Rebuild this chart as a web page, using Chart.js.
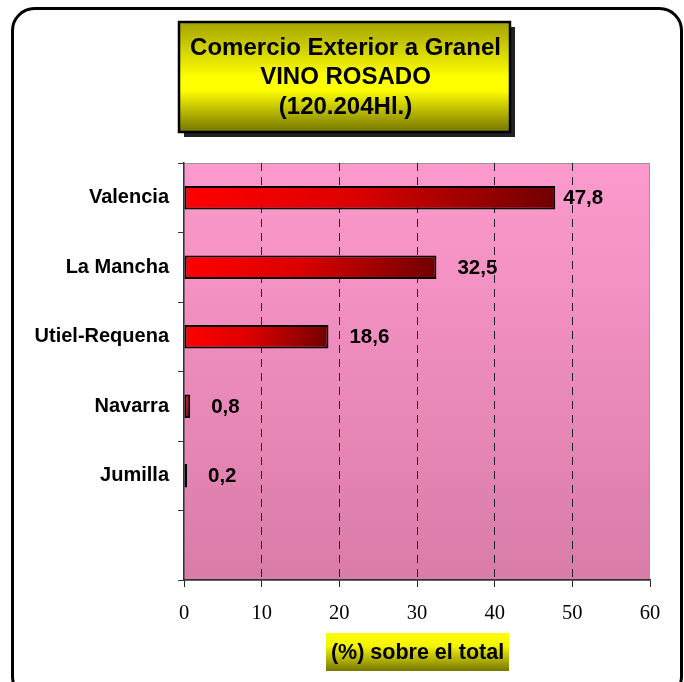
<!DOCTYPE html>
<html>
<head>
<meta charset="utf-8">
<script src="https://cdn.jsdelivr.net/npm/chart.js@4/dist/chart.umd.min.js"></script>
<style>
  body { margin: 0; background: #fff; }
  #chart { display: block; }
</style>
</head>
<body>
<canvas id="chart" width="684" height="682"></canvas>
<script>
// chart data
const regions = ["Valencia", "La Mancha", "Utiel-Requena", "Navarra", "Jumilla", ""];
const shares = [47.8, 32.5, 18.6, 0.8, 0.2, null];
const shareLabels = ["47,8", "32,5", "18,6", "0,8", "0,2"];
const titleLines = ["Comercio Exterior a Granel", "VINO ROSADO", "(120.204Hl.)"];
const axisTitle = "(%) sobre el total";
const xTicks = [0, 10, 20, 30, 40, 50, 60];

// frame, pink plot background, title box and axis title box
const decorPlugin = {
  id: "decor",
  beforeDraw(chart) {
    const ctx = chart.ctx;
    const a = chart.chartArea;
    ctx.save();
    ctx.fillStyle = "#fff";
    ctx.fillRect(0, 0, chart.width, chart.height);

    // rounded outer frame
    ctx.lineWidth = 3;
    ctx.strokeStyle = "#000";
    ctx.beginPath();
    ctx.roundRect(12.5, 8.5, 669, 690, 22);
    ctx.stroke();

    // plot area
    const g = ctx.createLinearGradient(0, a.top, 0, a.bottom);
    g.addColorStop(0, "#fd9acd");
    g.addColorStop(1, "#d97ca8");
    ctx.fillStyle = g;
    ctx.fillRect(a.left, a.top, a.right - a.left, a.bottom - a.top);
    ctx.strokeStyle = "#999";
    ctx.lineWidth = 1;
    ctx.strokeRect(a.left, a.top + 0.5, a.right - a.left - 0.5, a.bottom - a.top);
    ctx.restore();
  },
  afterDraw(chart) {
    const ctx = chart.ctx;
    ctx.save();
    // title box with shadow
    const bx = 179, by = 22, bw = 331, bh = 110;
    ctx.fillStyle = "#222";
    ctx.fillRect(bx + 5, by + 5, bw, bh);
    const tg = ctx.createLinearGradient(0, by, 0, by + bh);
    tg.addColorStop(0, "#a3a300");
    tg.addColorStop(0.5, "#ffff00");
    tg.addColorStop(0.62, "#ffff00");
    tg.addColorStop(1, "#747400");
    ctx.fillStyle = tg;
    ctx.fillRect(bx, by, bw, bh);
    ctx.lineWidth = 2.5;
    ctx.strokeStyle = "#000";
    ctx.strokeRect(bx, by, bw, bh);

    ctx.fillStyle = "#000";
    ctx.font = "bold 24px 'Liberation Sans', Arial, sans-serif";
    ctx.textAlign = "center";
    ctx.textBaseline = "middle";
    titleLines.forEach((line, i) => {
      ctx.fillText(line, bx + bw / 2 + 1, 48 + i * 29.5);
    });

    // x axis title box
    const ax = 326, ay = 633, aw = 183, ah = 38;
    const ag = ctx.createLinearGradient(0, ay, 0, ay + ah);
    ag.addColorStop(0, "#ffff00");
    ag.addColorStop(0.35, "#f4f400");
    ag.addColorStop(1, "#777700");
    ctx.fillStyle = ag;
    ctx.fillRect(ax, ay, aw, ah);
    ctx.fillStyle = "#000";
    ctx.font = "bold 21.5px 'Liberation Sans', Arial, sans-serif";
    ctx.fillText(axisTitle, ax + aw / 2, ay + ah / 2 + 1);
    ctx.restore();
  }
};

// value labels next to the bars
const valueLabels = {
  id: "valueLabels",
  afterDatasetsDraw(chart, args, opts) {
    const ctx = chart.ctx;
    const meta = chart.getDatasetMeta(0);
    ctx.save();
    ctx.fillStyle = "#000";
    ctx.font = "bold 20.5px 'Liberation Sans', Arial, sans-serif";
    ctx.textAlign = "left";
    ctx.textBaseline = "middle";
    meta.data.forEach((bar, i) => {
      if (shareLabels[i] === undefined) return;
      ctx.fillText(shareLabels[i], bar.x + opts.offsets[i], bar.y + 1);
    });
    ctx.restore();
  }
};

function barGradient(context) {
  const chart = context.chart;
  const xs = chart.scales.x;
  const ys = chart.scales.y;
  if (!xs || !ys || context.raw == null) return "#e00000";
  const x0 = xs.getPixelForValue(0);
  const x1 = xs.getPixelForValue(context.raw);
  const yc = ys.getPixelForValue(context.dataIndex);
  if (![x0, x1, yc].every(Number.isFinite)) return "#e00000";
  const g = chart.ctx.createLinearGradient(x0, yc - 12, Math.max(x1, x0 + 2), yc + 12);
  g.addColorStop(0, "#ff0000");
  g.addColorStop(0.45, "#dd0000");
  g.addColorStop(1, "#700000");
  return g;
}

new Chart(document.getElementById("chart"), {
  type: "bar",
  data: {
    labels: regions,
    datasets: [{
      data: shares,
      backgroundColor: barGradient,
      borderColor: "#000",
      borderWidth: 2,
      borderSkipped: false,
      minBarLength: 3,
      barPercentage: 0.34,
      categoryPercentage: 1
    }]
  },
  options: {
    indexAxis: "y",
    responsive: false,
    animation: false,
    layout: { padding: { top: 163, right: 34, left: 0, bottom: 0 } },
    plugins: {
      legend: { display: false },
      tooltip: { enabled: false },
      valueLabels: { offsets: [8, 21, 21, 21, 21] }
    },
    scales: {
      x: {
        min: 0,
        max: 60,
        afterFit: (s) => { s.height = 102; },
        afterBuildTicks: (s) => { s.ticks = xTicks.map((v) => ({ value: v })); },
        ticks: {
          color: "#000",
          padding: 14,
          font: { family: "'Liberation Serif', 'Times New Roman', serif", size: 20.5 }
        },
        grid: {
          color: (c) => (c.tick && c.tick.value % 60 === 0 ? "rgba(0,0,0,0)" : "#222"),
          lineWidth: 1,
          tickColor: "#222",
          tickLength: 7,
          tickBorderDash: []
        },
        border: { display: true, color: "#333", width: 1.5, dash: [8, 6] }
      },
      y: {
        afterFit: (s) => { s.width = 184; },
        ticks: {
          color: "#000",
          padding: 9,
          font: { family: "'Liberation Sans', Arial, sans-serif", size: 20, weight: "bold" }
        },
        grid: {
          drawOnChartArea: false,
          tickColor: "#333",
          tickLength: 6
        },
        border: { display: true, color: "#333", width: 1.5 }
      }
    }
  },
  plugins: [decorPlugin, valueLabels]
});
</script>
</body>
</html>
